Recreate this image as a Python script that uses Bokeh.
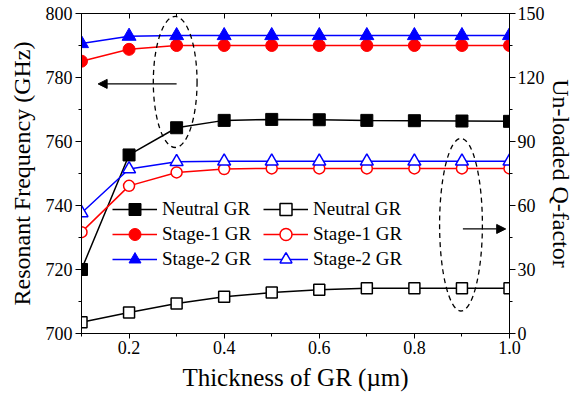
from bokeh.plotting import figure
from bokeh.models import (Range1d, LinearAxis, Legend, LegendItem, Arrow, NormalHead,
                          SingleIntervalTicker, PrintfTickFormatter, CustomJSTickFormatter)
from bokeh.embed import file_html
from bokeh.resources import INLINE

thickness = [0.1, 0.2, 0.3, 0.4, 0.5, 0.6, 0.7, 0.8, 0.9, 1.0]
neutral_f = [720.0, 755.8, 764.3, 766.6, 766.9, 766.8, 766.6, 766.5, 766.4, 766.3]
stage1_f = [785.1, 788.8, 790.0, 790.0, 790.0, 790.0, 790.0, 790.0, 790.0, 790.0]
stage2_f = [790.6, 792.9, 793.1, 793.1, 793.1, 793.1, 793.1, 793.1, 793.1, 793.1]
neutral_q = [5.3, 9.8, 14.1, 17.2, 19.2, 20.5, 21.2, 21.2, 21.2, 21.2]
stage1_q = [47.5, 69.2, 75.5, 77.1, 77.4, 77.4, 77.4, 77.4, 77.4, 77.4]
stage2_q = [56.5, 77.1, 80.5, 80.7, 80.7, 80.7, 80.7, 80.7, 80.7, 80.7]
labels = ["Neutral GR", "Stage-1 GR", "Stage-2 GR"]

FONT = "Liberation Serif"

p = figure(width=576, height=396, output_backend="svg", toolbar_location=None,
           x_range=Range1d(0.1, 1.0), y_range=Range1d(700, 800),
           min_border_left=81, min_border_right=64, min_border_top=13, min_border_bottom=63)
p.extra_y_ranges = {"right": Range1d(0, 150)}
p.grid.visible = False
p.outline_line_color = "black"
p.outline_line_width = 1
p.background_fill_color = "white"

def style_axis(ax):
    ax.axis_line_color = "black"
    ax.major_tick_line_color = "black"
    ax.minor_tick_line_color = "black"
    ax.major_tick_out = 6
    ax.major_tick_in = 0
    ax.minor_tick_out = 3
    ax.minor_tick_in = 0
    ax.major_label_text_font = FONT
    ax.major_label_text_font_size = "18px"
    ax.major_label_text_color = "black"
    ax.axis_label_text_font = FONT
    ax.axis_label_text_font_size = "24px"
    ax.axis_label_text_font_style = "normal"
    ax.axis_label_text_color = "black"

xa = p.xaxis[0]
xa.ticker = SingleIntervalTicker(interval=0.2, num_minor_ticks=2)
xa.formatter = PrintfTickFormatter(format="%.1f")
xa.axis_label = "Thickness of GR (\u00b5m)"
style_axis(xa)
xa.axis_label_text_font_size = "25px"
xa.major_tick_out = 5
xa.major_label_standoff = 2
xa.axis_label_standoff = 7

ya = p.yaxis[0]
ya.ticker = SingleIntervalTicker(interval=20, num_minor_ticks=2)
ya.axis_label = "Resonant Frequency (GHz)"
style_axis(ya)
ya.major_label_standoff = 3
ya.axis_label_standoff = 8

ra = LinearAxis(y_range_name="right", ticker=SingleIntervalTicker(interval=30, num_minor_ticks=2),
                axis_label="Un-loaded Q-factor")
style_axis(ra)
ra.major_label_standoff = 2
ra.axis_label_standoff = 0
p.add_layout(ra, "right")

# mirrored top axis: inward ticks only, no labels
ta = LinearAxis(ticker=SingleIntervalTicker(interval=0.2, num_minor_ticks=2),
                formatter=CustomJSTickFormatter(code="return '';"))
ta.major_label_text_font_size = "0px"
ta.major_label_standoff = 0
ta.major_tick_out = 0
ta.major_tick_in = 5
ta.minor_tick_out = 0
ta.minor_tick_in = 3
ta.axis_line_color = "black"
p.add_layout(ta, "above")

colors = ["black", "red", "blue"]
markers = ["square", "circle", "triangle"]
sizes = [12, 12, 14]
freqs = [neutral_f, stage1_f, stage2_f]
qs = [neutral_q, stage1_q, stage2_q]

items_f = []
items_q = []
for i in range(3):
    l1 = p.line(thickness, freqs[i], line_color=colors[i], line_width=1.5)
    s1 = p.scatter(thickness, freqs[i], marker=markers[i], size=sizes[i],
                   fill_color=colors[i], line_color=colors[i])
    items_f.append(LegendItem(label=labels[i], renderers=[l1, s1]))
    l2 = p.line(thickness, qs[i], line_color=colors[i], line_width=1.5, y_range_name="right")
    s2 = p.scatter(thickness, qs[i], marker=markers[i], size=sizes[i] - 1,
                   fill_color="white", line_color=colors[i], line_width=1.5,
                   y_range_name="right")
    items_q.append(LegendItem(label=labels[i], renderers=[l2, s2]))

# dashed ellipses
p.ellipse(x=[0.297], y=[778.6], width=0.092, height=41, fill_alpha=0,
          line_color="black", line_dash="5 4", line_width=1.3)
p.ellipse(x=[0.898], y=[51], width=0.09, height=81, fill_alpha=0,
          line_color="black", line_dash="5 4", line_width=1.3, y_range_name="right")

# arrows
p.add_layout(Arrow(end=NormalHead(size=9, fill_color="black", line_color="black"),
                   x_start=0.3, y_start=778, x_end=0.135, y_end=778,
                   line_color="black", line_width=1.2))
p.add_layout(Arrow(end=NormalHead(size=9, fill_color="black", line_color="black"),
                   x_start=0.902, y_start=49, x_end=0.992, y_end=49,
                   line_color="black", line_width=1.2, y_range_name="right"))

def make_legend(item, loc):
    lg = Legend(items=[item], location=loc, orientation="vertical")
    lg.border_line_alpha = 0
    lg.background_fill_alpha = 0
    lg.padding = 0
    lg.margin = 0
    lg.spacing = 0
    lg.glyph_width = 45
    lg.glyph_height = 30
    lg.label_height = 20
    lg.label_standoff = 5
    lg.label_text_font = FONT
    lg.label_text_font_size = "19px"
    lg.label_text_color = "black"
    return lg

row_y = [109, 84, 59]
for i in range(3):
    p.add_layout(make_legend(items_f[i], (31, row_y[i])), "center")
    p.add_layout(make_legend(items_q[i], (182, row_y[i])), "center")

open("out.html", "w").write(file_html(p, INLINE))
